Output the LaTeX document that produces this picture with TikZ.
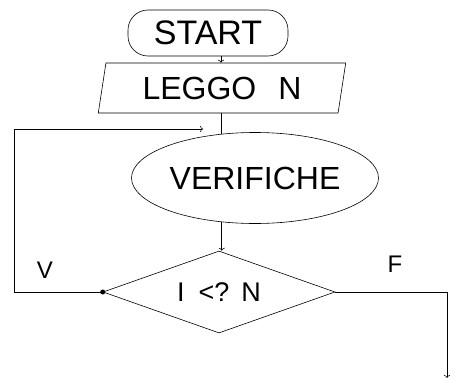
\documentclass[tikz,border=0pt]{standalone}
\usepackage{fontspec}
\setmainfont{Liberation Sans}
\usetikzlibrary{shapes,shapes.geometric,arrows.meta,calc}

\begin{document}
\begin{tikzpicture}[x=1pt,y=-1pt,line width=0.6pt,
        terminal/.style={draw,rounded corners=20pt,minimum width=160pt,minimum height=46pt,inner sep=0pt,font=\fontsize{34}{36}\selectfont},
        inout/.style={draw,trapezium,trapezium left angle=77,trapezium right angle=103,trapezium stretches=true,minimum width=248pt,minimum height=50pt,inner sep=0pt,font=\fontsize{32}{34}\selectfont},
        process/.style={draw,ellipse,minimum width=247pt,minimum height=91pt,inner sep=0pt,font=\fontsize{32}{34}\selectfont},
        test/.style={draw,diamond,aspect=2.8,minimum width=232pt,minimum height=82pt,inner sep=0pt,font=\fontsize{27}{29}\selectfont},
        branch/.style={font=\fontsize{24}{26}\selectfont}]
        \useasboundingbox (0,0) rectangle (455,380);

        % Blocks
        \node[terminal] (start) at (208,33) {START};
        \node[inout] (leggo) at (222,88) {LEGGO\hspace{22pt}N};
        \node[process] (verif) at (255,178) {VERIFICHE};
        \node[test] (cond) at (219,292) {I\hspace{14pt}<?\hspace{12pt}N};

        % Vertical flow line and loop points
        \coordinate (axis) at (221,0);
        \coordinate (loop) at (14,129);
        \coordinate (back) at (203,129);
        \coordinate (exit) at (447,378);

        % Main flow
        \draw[->] (start.south -| axis) -- (leggo.north -| axis);
        \draw (leggo.south -| axis) -- (axis |- verif.127);
        \draw[->] (verif.233) -- (verif.233 |- cond.north);

        % True branch back to the loop
        \fill (cond.west) circle (2.5pt);
        \draw[->] (cond.west) -| (loop) -- (back);
        \node[branch] (vlabel) at (45,270) {V};

        % False branch
        \draw[->] (cond.east) -| (exit);
        \node[branch] (flabel) at (395,264) {F};

    \end{tikzpicture}
\end{document}
